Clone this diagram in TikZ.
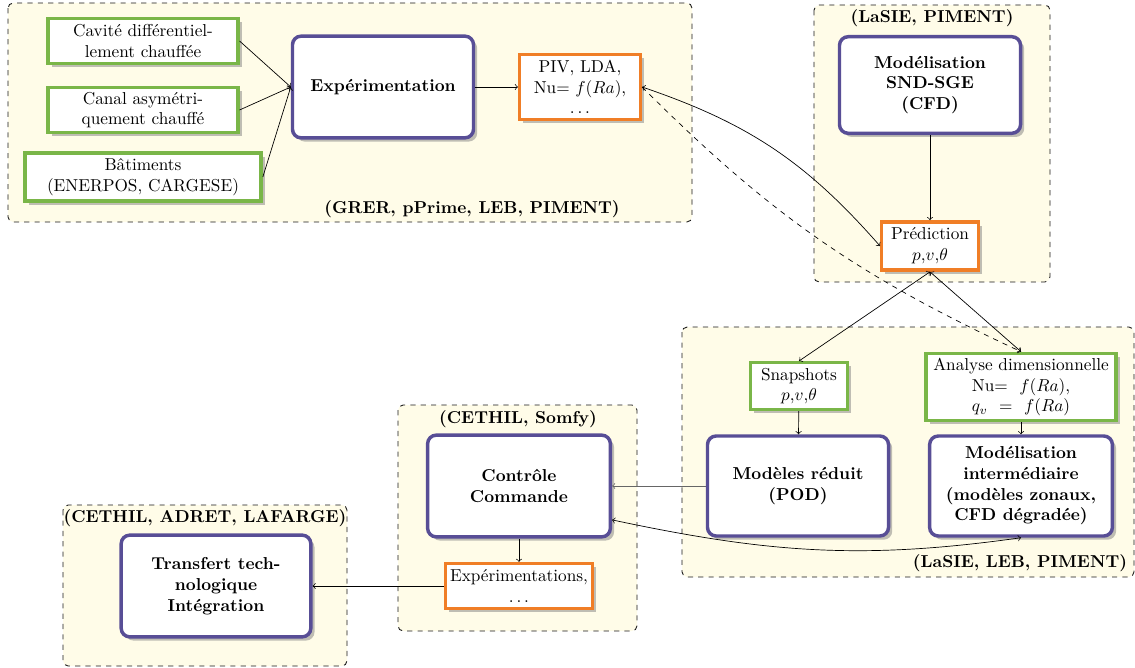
\documentclass[tikz,border=0pt]{standalone}
\usepackage{fontspec}
\usetikzlibrary{shadows}
\definecolor{violetbox}{RGB}{88,78,150}
\definecolor{greenbox}{RGB}{122,182,72}
\definecolor{orangebox}{RGB}{240,126,38}
\definecolor{groupfill}{RGB}{255,252,232}
\tikzset{
	task/.style={draw=violetbox, line width=2pt, rounded corners=5pt, fill=white, drop shadow, align=center, font=\bfseries, inner sep=2pt},
	input/.style={draw=greenbox, line width=2pt, fill=white, drop shadow, align=center, inner sep=2pt},
	result/.style={draw=orangebox, line width=2pt, fill=white, drop shadow, align=center, inner sep=2pt},
	groupbox/.style={draw=black!90, line width=0.5pt, dashed, rounded corners=3pt, fill=groupfill},
	grouplabel/.style={font=\bfseries, inner sep=1pt},
}
\begin{document}
\begin{tikzpicture}[x=0.58pt, y=0.58pt]
		\useasboundingbox (0,0) rectangle (1135,667);
		\draw[groupbox] (8,664) rectangle (692,445);
		\draw[groupbox] (814,662) rectangle (1050,385);
		\draw[groupbox] (682,340) rectangle (1134,90);
		\draw[groupbox] (398,262) rectangle (637,36);
		\draw[groupbox] (63,162) rectangle (347,1);
		\node[grouplabel] (lgrer) at (472,458) {(GRER, pPrime, LEB, PIMENT)};
		\node[grouplabel] (llasiea) at (932,649) {(LaSIE, PIMENT)};
		\node[grouplabel] (llasieb) at (1020,104) {(LaSIE, LEB, PIMENT)};
		\node[grouplabel] (lcethila) at (518,248) {(CETHIL, Somfy)};
		\node[grouplabel] (lcethilb) at (205,149) {(CETHIL, ADRET, LAFARGE)};
		
		\node[input, minimum width=110pt, minimum height=26pt] (cavite) at (143,626) {Cavité différentiel-\\lement chauffée};
		\node[input, minimum width=110pt, minimum height=26pt] (canal) at (143,557) {Canal asymétri-\\quement chauffé};
		\node[input, minimum width=137pt, minimum height=28pt] (bat) at (143,490) {Bâtiments\\(ENERPOS, CARGESE)};
		\node[task, minimum width=105pt, minimum height=59pt] (exper) at (383,580) {Expérimentation};
		\node[result, minimum width=70pt, minimum height=38pt] (piv) at (580,580) {PIV, LDA,\\Nu= $f(Ra)$,\\$\dots$};
		\node[task, minimum width=105pt, minimum height=56pt] (snd) at (930,582) {Modélisation\\SND-SGE\\(CFD)};
		\node[result, minimum width=56pt, minimum height=28pt] (predic) at (930,421) {Prédiction\\$p$,$v$,$\theta$};
		\node[input, minimum width=56pt, minimum height=27pt] (snap) at (799,281) {Snapshots\\$p$,$v$,$\theta$};
		\node[input, minimum width=110pt, minimum height=39pt] (analyse) at (1021,280) {Analyse dimensionnelle\\Nu=~~$f(Ra)$,\\$q_v$~~=~~$f(Ra)$};
		\node[task, minimum width=105pt, minimum height=58pt] (pod) at (798,181) {Modèles réduit\\(POD)};
		\node[task, minimum width=106pt, minimum height=58pt] (inter) at (1021,181) {Modélisation\\intermédiaire\\(modèles zonaux,\\CFD dégradée)};
		\node[task, minimum width=106pt, minimum height=59pt] (ctrl) at (519,181) {Contrôle\\Commande};
		\node[result, minimum width=85pt, minimum height=26pt] (exps) at (519,81) {Expérimentations,\\$\dots$};
		\node[task, minimum width=110pt, minimum height=59pt] (transf) at (216,81) {Transfert tech-\\nologique\\Intégration};
		
		\foreach \src in {cavite, canal, bat} {
			\draw[->] (\src.east) -- (exper.west);
		}
		\draw[->] (exper) -- (piv);
		\draw[->] (snd) -- (predic);
		\draw[<->] (piv.east) to[bend left=15] (predic.west);
		\draw[->, dashed] (piv.east) to[bend right=10] (analyse.north);
		\draw[<->] (predic.south) -- (snap.north);
		\draw[<->] (predic.south) -- (analyse.north);
		\draw[->] (snap) -- (pod);
		\draw[->] (analyse) -- (inter);
		\draw[->, black!60] (pod.west) -- (ctrl.east);
		\draw[<->] (ctrl.-20) to[out=-12, in=188] (inter.south);
		\draw[->] (ctrl) -- (exps);
		\draw[->] (exps) -- (transf);
	\end{tikzpicture}
\end{document}
